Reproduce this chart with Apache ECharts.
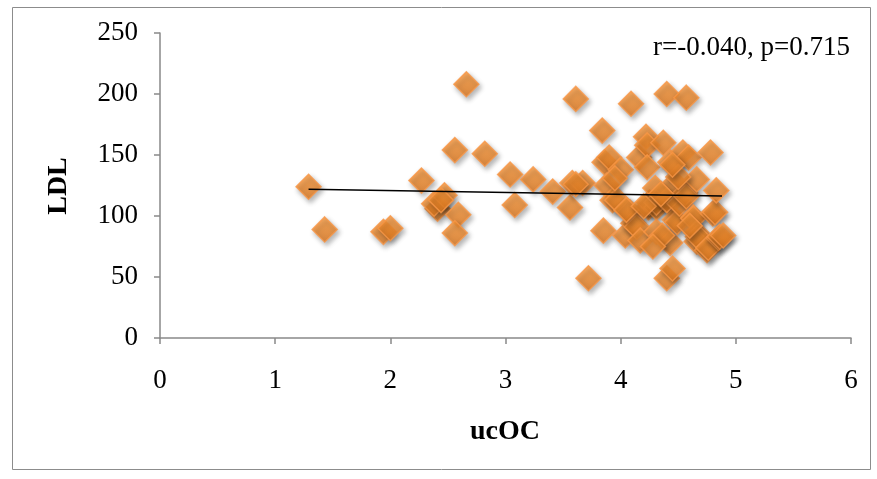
<!DOCTYPE html>
<html>
<head>
<meta charset="utf-8">
<script src="https://cdn.jsdelivr.net/npm/echarts@6/dist/echarts.min.js"></script>
<style>
html,body{margin:0;padding:0;background:#fff;}
#chart{width:877px;height:479px;}
</style>
</head>
<body>
<div id="chart"></div>
<script>
// ucOC values (x) and LDL values (y), one entry per subject
const ucOC = [
  1.29, 1.43, 1.94, 2.00, 2.27, 2.41, 2.38, 2.47, 2.44, 2.59, 2.56, 2.56, 2.66, 2.82,
  3.04, 3.08, 3.24, 3.41, 3.56, 3.58, 3.61, 3.67, 3.61, 3.72,
  3.84, 3.86, 3.90, 3.88, 3.85, 3.93, 3.97, 4.00, 4.04, 4.08, 4.09, 4.11, 4.14, 4.17,
  4.16, 4.22, 4.23, 4.23, 4.24, 4.25, 4.30, 4.31, 4.31, 4.31, 4.37, 4.40, 4.40, 4.43,
  4.43, 4.43, 4.45, 4.47, 4.47, 4.49, 4.40, 4.51, 4.54, 4.56, 4.57, 4.57, 4.59, 4.63,
  4.63, 4.66, 4.66, 4.67, 4.66, 4.75, 4.76, 4.78, 4.80, 4.82, 4.83, 4.85, 4.86, 4.89,
  4.36, 4.28, 4.05, 3.95, 4.20, 4.50, 4.60, 4.35, 4.45
];
const LDL = [
  124, 89, 87, 90, 129, 106, 110, 117, 113, 101, 86, 154, 208, 151,
  134, 109, 130, 120, 107, 127, 196, 127, 126, 49,
  170, 144, 148, 125, 88, 113, 113, 138, 84, 103, 192, 94, 91, 80,
  148, 165, 158, 140, 107, 111, 123, 107, 87, 111, 160, 200, 49, 144,
  78, 111, 57, 127, 97, 95, 113, 110, 152, 119, 197, 116, 148, 99,
  98, 86, 79, 83, 130, 72, 74, 152, 102, 103, 121, 82, 83, 84,
  84, 75, 105, 131, 108, 132, 92, 118, 142
];
// fitted trend line endpoints
const trendX = [1.29, 4.88];
const trendY = [122, 116.4];
const xTicks = [0, 1, 2, 3, 4, 5, 6];
const yTicks = [0, 50, 100, 150, 200, 250];
const statsText = 'r=-0.040, p=0.715';

const points = ucOC.map((x, i) => [x, LDL[i]]);
const trend = trendX.map((x, i) => [x, trendY[i]]);

const serif = '"Liberation Serif", "Times New Roman", serif';
const axisGray = '#898989';

const chart = echarts.init(document.getElementById('chart'), null, {renderer: 'canvas'});
chart.setOption({
  animation: false,
  backgroundColor: '#ffffff',
  grid: {left: 160, right: 26, top: 33, bottom: 141, containLabel: false},
  xAxis: {
    type: 'value', min: xTicks[0], max: xTicks[xTicks.length - 1], interval: 1,
    splitLine: {show: false},
    axisLine: {show: true, onZero: false, lineStyle: {color: axisGray, width: 1.5}},
    axisTick: {show: true, length: 6, inside: false, lineStyle: {color: axisGray, width: 1.5}},
    axisLabel: {color: '#000', fontFamily: serif, fontSize: 27, margin: 29}
  },
  yAxis: {
    type: 'value', min: yTicks[0], max: yTicks[yTicks.length - 1], interval: 50,
    splitLine: {show: false},
    axisLine: {show: true, lineStyle: {color: axisGray, width: 1.5}},
    axisTick: {show: true, length: 6, inside: false, lineStyle: {color: axisGray, width: 1.5}},
    axisLabel: {color: '#000', fontFamily: serif, fontSize: 27, margin: 22}
  },
  series: [
    {
      type: 'scatter',
      data: points,
      symbol: 'diamond',
      symbolSize: [25, 25],
      itemStyle: {
        color: new echarts.graphic.LinearGradient(0, 0, 0, 1, [
          {offset: 0, color: '#FB9A3C'},
          {offset: 1, color: '#E27A1E'}
        ]),
        borderColor: '#F79646',
        borderWidth: 1.5,
        shadowBlur: 5,
        shadowOffsetX: 2,
        shadowOffsetY: 3,
        shadowColor: 'rgba(0,0,0,0.35)'
      },
      z: 2
    },
    {
      type: 'line',
      data: trend,
      symbol: 'none',
      lineStyle: {color: '#000', width: 1.5},
      z: 3
    }
  ],
  graphic: [
    {
      type: 'rect', left: 10, top: 5, z: -1,
      shape: {width: 858, height: 462},
      style: {fill: 'none', stroke: '#8c8c8c', lineWidth: 1}
    },
    {
      type: 'text', x: 850, y: 48,
      style: {text: statsText, font: '27px ' + serif, fill: '#000',
              textAlign: 'right', textVerticalAlign: 'middle'}
    },
    {
      type: 'text', x: 505, y: 432,
      style: {text: 'ucOC', font: 'bold 28px ' + serif, fill: '#000',
              textAlign: 'center', textVerticalAlign: 'middle'}
    },
    {
      type: 'text', x: 59, y: 186, rotation: Math.PI / 2,
      style: {text: 'LDL', font: 'bold 28px ' + serif, fill: '#000',
              textAlign: 'center', textVerticalAlign: 'middle'}
    }
  ]
});
</script>
</body>
</html>
